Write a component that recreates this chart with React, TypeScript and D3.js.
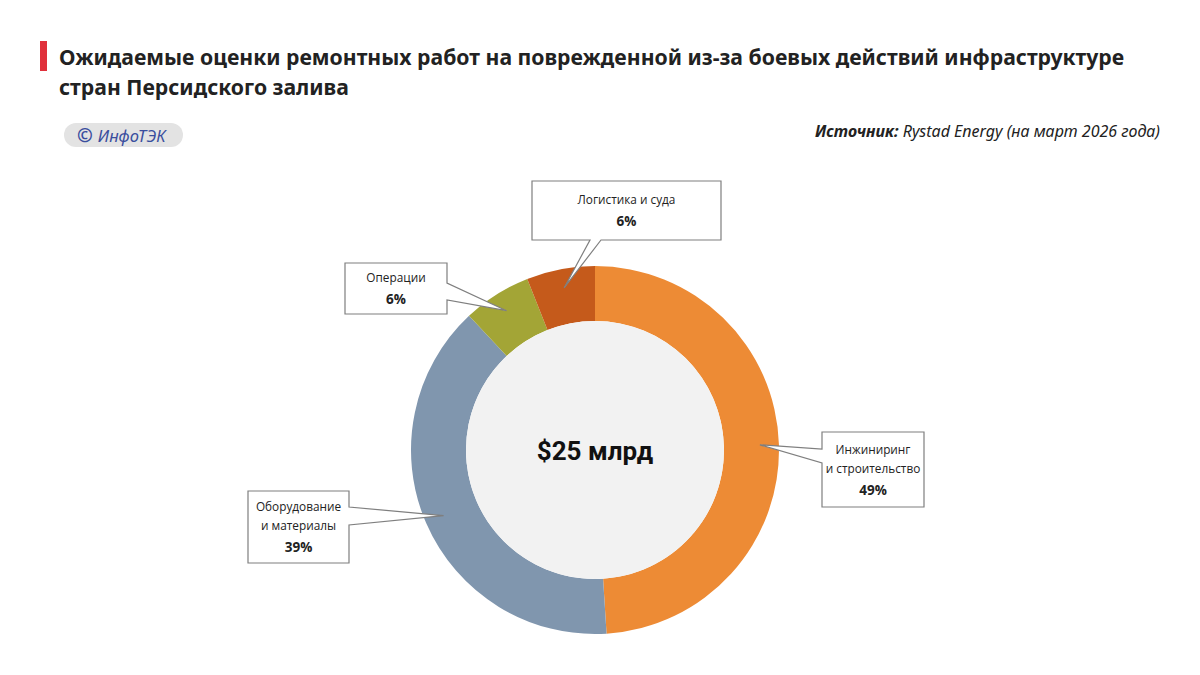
import React, { useEffect, useRef } from 'react';
import * as d3 from 'd3';

// Структура оценки ремонтных работ, % (по часовой стрелке от 12 часов)
const categories = ['Инжиниринг и строительство', 'Оборудование и материалы', 'Операции', 'Логистика и суда'];
const shares = [49, 39, 6, 6];
const labelLines = [
  ['Инжиниринг', 'и строительство'],
  ['Оборудование', 'и материалы'],
  ['Операции'],
  ['Логистика и суда'],
];
const sliceColors = ['#ED8B35', '#8096AE', '#A3A536', '#C55A1B'];
const totalLabel = '$25 млрд';

const titleLines = [
  'Ожидаемые оценки ремонтных работ на поврежденной из-за боевых действий инфраструктуре',
  'стран Персидского залива',
];

// callout boxes: box rect + side where the pointer leaves + pointer base
const callouts = [
  { x: 822, y: 432, w: 102, h: 75, side: 'left', b0: 449, b1: 463 },
  { x: 248, y: 491, w: 101, h: 72, side: 'right', b0: 507, b1: 525 },
  { x: 345, y: 263, w: 102, h: 51, side: 'right', b0: 283, b1: 300 },
  { x: 532, y: 181, w: 189, h: 59, side: 'bottom', b0: 590, b1: 601 },
];

const calloutPath = (c: typeof callouts[number], tip: [number, number]) => {
  const { x, y, w, h, side, b0, b1 } = c;
  const x1 = x + w;
  const y1 = y + h;
  const p = d3.path();
  p.moveTo(x, y);
  p.lineTo(x1, y);
  if (side === 'right') {
    p.lineTo(x1, b0);
    p.lineTo(tip[0], tip[1]);
    p.lineTo(x1, b1);
  }
  p.lineTo(x1, y1);
  if (side === 'bottom') {
    p.lineTo(b1, y1);
    p.lineTo(tip[0], tip[1]);
    p.lineTo(b0, y1);
  }
  p.lineTo(x, y1);
  if (side === 'left') {
    p.lineTo(x, b1);
    p.lineTo(tip[0], tip[1]);
    p.lineTo(x, b0);
  }
  p.closePath();
  return p.toString();
};

const App: React.FC = () => {
  const svgRef = useRef<SVGSVGElement>(null);

  useEffect(() => {
    if (!svgRef.current) return;
    const svg = d3.select(svgRef.current);
    svg.selectAll('*').remove();

    const cx = 595;
    const cy = 450;
    const outerR = 184;
    const innerR = 129;

    // Title
    svg.append('rect')
      .attr('x', 40).attr('y', 41).attr('width', 7).attr('height', 30)
      .attr('fill', '#E0303B');

    svg.append('text')
      .attr('font-family', '"Noto Sans", sans-serif')
      .attr('font-weight', 700)
      .attr('font-size', 21.2)
      .attr('fill', '#222')
      .selectAll('tspan')
      .data(titleLines)
      .enter().append('tspan')
      .attr('x', 59)
      .attr('y', (_, i) => 65 + i * 30)
      .text(d => d);

    // Logo pill
    svg.append('rect')
      .attr('x', 64).attr('y', 123).attr('width', 119).attr('height', 24).attr('rx', 12)
      .attr('fill', '#E3E3E3');
    const logo = svg.append('text')
      .attr('x', 77).attr('y', 142)
      .attr('font-family', '"Noto Sans", sans-serif')
      .attr('font-size', 19)
      .attr('fill', '#3A4E9E');
    logo.append('tspan').attr('font-weight', 700).text('©');
    logo.append('tspan').attr('dx', 5).attr('font-style', 'italic').attr('font-size', 16.5).text('ИнфоТЭК');

    // Source
    const src = svg.append('text')
      .attr('x', 1160).attr('y', 137)
      .attr('text-anchor', 'end')
      .attr('font-family', '"Noto Sans", sans-serif')
      .attr('font-style', 'italic')
      .attr('font-size', 16)
      .attr('fill', '#222');
    src.append('tspan').attr('font-weight', 700).text('Источник: ');
    src.append('tspan').text('Rystad Energy (на март 2026 года)');

    // Donut
    const pie = d3.pie<number>().sort(null).value(d => d);
    const arcs = pie(shares);
    const arc = d3.arc<d3.PieArcDatum<number>>().innerRadius(innerR).outerRadius(outerR);
    const tipArc = d3.arc<d3.PieArcDatum<number>>().innerRadius(165).outerRadius(165);

    const g = svg.append('g').attr('transform', `translate(${cx},${cy})`);

    g.selectAll('path.slice')
      .data(arcs)
      .enter().append('path')
      .attr('class', 'slice')
      .attr('d', arc)
      .attr('fill', (_, i) => sliceColors[i]);

    g.append('circle').attr('r', innerR).attr('fill', '#F2F2F2');

    g.append('text')
      .attr('y', 10)
      .attr('text-anchor', 'middle')
      .attr('font-family', 'Roboto, sans-serif')
      .attr('font-weight', 700)
      .attr('font-size', 26)
      .attr('fill', '#111')
      .text(totalLabel);

    // Callouts
    arcs.forEach((a, i) => {
      const [tx, ty] = tipArc.centroid(a);
      const tip: [number, number] = [cx + tx, cy + ty];
      const c = callouts[i];
      svg.append('path')
        .attr('d', calloutPath(c, tip))
        .attr('fill', '#fff')
        .attr('stroke', '#7F7F7F')
        .attr('stroke-width', 1.2);

      const lines = labelLines[i];
      const midX = c.x + c.w / 2;
      const lineH = 19;
      const blockH = lines.length * lineH + 22;
      const top = c.y + (c.h - blockH) / 2 + 14;
      const t = svg.append('text')
        .attr('text-anchor', 'middle')
        .attr('font-family', '"Open Sans", sans-serif')
        .attr('fill', '#222');
      lines.forEach((l, j) => {
        t.append('tspan')
          .attr('x', midX).attr('y', top + j * lineH)
          .attr('font-size', 11.8)
          .text(l);
      });
      t.append('tspan')
        .attr('x', midX).attr('y', top + lines.length * lineH + 3)
        .attr('font-size', 13.5)
        .attr('font-weight', 700)
        .text(`${shares[i]}%`);
    });
  }, []);

  return (
    <svg
      ref={svgRef}
      width={1200}
      height={675}
      style={{ position: 'absolute', left: 0, top: 0, background: '#fff' }}
    />
  );
};

export default App;
